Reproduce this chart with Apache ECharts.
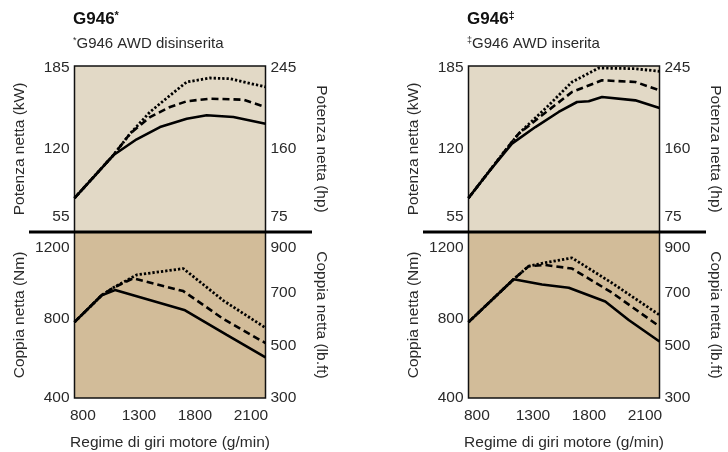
<!DOCTYPE html>
<html>
<head>
<meta charset="utf-8">
<script src="https://cdn.jsdelivr.net/npm/echarts@6/dist/echarts.min.js"></script>
<style>
html,body{margin:0;padding:0;background:#fff;}
#c{width:728px;height:452px;}
</style>
</head>
<body>
<div id="c"></div>
<script>
// ---- tick labels ----
const xTickPositions = [800, 1300, 1800, 2300];
const xTickLabels = ['800', '1300', '1800', '2100'];
const kwTicks = [55, 120, 185];
const hpTicks = [75, 160, 245];
const nmTicks = [400, 800, 1200];
const lbftTicks = [300, 500, 700, 900];

// ---- left panel (AWD disinserita): power kW ----
const lPowSolidRpm = [725, 1071, 1280, 1488, 1727, 1905, 2143, 2430];
const lPowSolidKw  = [81.6, 115.1, 127.6, 137.2, 143.7, 146.4, 145.1, 139.8];
const lPowDashRpm  = [725, 1071, 1221, 1399, 1578, 1727, 1935, 2232, 2430];
const lPowDashKw   = [81.6, 115.1, 132, 145, 152.9, 157.4, 159.4, 158.6, 152.9];
const lPowDotRpm   = [725, 1071, 1221, 1399, 1578, 1727, 1935, 2113, 2430];
const lPowDotKw    = [81.6, 115.1, 132, 149, 162, 172.5, 175.6, 175, 168.6];
// ---- left panel: torque Nm ----
const lTrqSolidRpm = [725, 968, 1087, 1712, 2084, 2430];
const lTrqSolidNm  = [784, 920, 946, 844, 720, 605];
const lTrqDashRpm  = [725, 968, 1071, 1250, 1696, 2054, 2430];
const lTrqDashNm   = [784, 920, 958, 1006, 941, 800, 678];
const lTrqDotRpm   = [725, 968, 1071, 1280, 1696, 2054, 2430];
const lTrqDotNm    = [784, 920, 958, 1023, 1055, 893, 755];

// ---- right panel (AWD inserita): power kW ----
const rPowSolidRpm = [725, 905, 1113, 1322, 1530, 1694, 1798, 1917, 2214, 2430];
const rPowSolidKw  = [81.6, 102, 124.2, 137.2, 149, 156.8, 157.4, 160.7, 158.1, 152.1];
const rPowDashRpm  = [725, 905, 1054, 1173, 1381, 1649, 1917, 2214, 2430];
const rPowDashKw   = [81.6, 102, 119, 132, 146.4, 164.6, 173.8, 172.5, 166];
const rPowDotRpm   = [725, 905, 1054, 1173, 1441, 1649, 1888, 2214, 2430];
const rPowDotKw    = [81.6, 102, 119, 132, 154.2, 172.5, 183.4, 182.9, 180.8];
// ---- right panel: torque Nm ----
const rTrqSolidRpm = [725, 1128, 1381, 1620, 1946, 2155, 2430];
const rTrqSolidNm  = [784, 1001, 974, 958, 888, 795, 686];
const rTrqDashRpm  = [725, 1128, 1262, 1411, 1649, 2006, 2430];
const rTrqDashNm   = [784, 1001, 1067, 1073, 1055, 933, 762];
const rTrqDotRpm   = [725, 1128, 1262, 1411, 1649, 2006, 2430];
const rTrqDotNm    = [784, 1001, 1067, 1085, 1109, 982, 820];

const FONT = '"Liberation Sans", Arial, Helvetica, sans-serif';
const TXT = '#2a2a2a';
const FS = 15.5;
const zip = (a, b) => a.map((v, i) => [v, b[i]]);

const topBg = '#e2d9c6';
const botBg = '#d2bc99';

function grid(left, top, height, bg) {
  return { left: left, top: top, width: 191, height: height, show: true,
           backgroundColor: bg, borderColor: '#111', borderWidth: 1.5 };
}
const grids = [
  grid(74.5, 66, 166, topBg),
  grid(74.5, 232, 172, botBg),
  grid(468.5, 66, 166, topBg),
  grid(468.5, 232, 172, botBg)
];

const richLbl = {
  n:  { fontFamily: FONT, fontSize: FS, color: TXT },
  lo: { fontFamily: FONT, fontSize: FS, color: TXT, padding: [0, 0, 30, 0] },
  hi: { fontFamily: FONT, fontSize: FS, color: TXT, padding: [16, 0, 0, 0] },
  tp: { fontFamily: FONT, fontSize: FS, color: TXT, padding: [4, 0, 0, 0] }
};

function yAxis(gi, pos, min, max, ticks, name, styleFor) {
  return {
    type: 'value', gridIndex: gi, position: pos, min: min, max: max,
    splitLine: { show: false }, axisTick: { show: false }, axisLine: { show: false },
    axisLabel: {
      customValues: ticks, margin: 5,
      formatter: v => '{' + styleFor(v) + '|' + v + '}',
      rich: richLbl
    },
    name: name, nameLocation: 'middle', nameGap: pos === 'left' ? 47 : 48,
    nameRotate: pos === 'left' ? 90 : -90,
    nameTextStyle: { fontFamily: FONT, fontSize: FS, color: TXT }
  };
}
const powStyleL = v => v === kwTicks[0] ? 'lo' : (v === kwTicks[kwTicks.length - 1] ? 'tp' : 'n');
const powStyleR = v => v === hpTicks[0] ? 'lo' : (v === hpTicks[hpTicks.length - 1] ? 'tp' : 'n');
const trqStyleL = v => v === nmTicks[nmTicks.length - 1] ? 'hi' : 'n';
const trqStyleR = v => v === lbftTicks[lbftTicks.length - 1] ? 'hi' : 'n';

const yAxes = [];
const xAxes = [];
[0, 2].forEach(g => {
  yAxes.push(yAxis(g, 'left', 55, 185, kwTicks, 'Potenza netta (kW)', powStyleL));
  yAxes.push(yAxis(g, 'right', 75, 245, hpTicks, 'Potenza netta (hp)', powStyleR));
  yAxes.push(yAxis(g + 1, 'left', 400, 1240, nmTicks, 'Coppia netta (Nm)', trqStyleL));
  yAxes.push(yAxis(g + 1, 'right', 300, 300 + (1240 - 400) * 600 / 800, lbftTicks, 'Coppia netta (lb.ft)', trqStyleR));
  xAxes.push({ type: 'value', gridIndex: g, min: 725, max: 2430, show: false });
  xAxes.push({
    type: 'value', gridIndex: g + 1, min: 725, max: 2430,
    splitLine: { show: false }, axisTick: { show: false }, axisLine: { show: false },
    axisLabel: {
      customValues: xTickPositions, margin: 10,
      fontFamily: FONT, fontSize: FS, color: TXT,
      formatter: v => xTickLabels[xTickPositions.indexOf(v)]
    },
    name: 'Regime di giri motore (g/min)', nameLocation: 'middle', nameGap: 37,
    nameTextStyle: { fontFamily: FONT, fontSize: FS, color: TXT }
  });
});

const styles = {
  solid: { color: '#000', width: 2.6, type: 'solid' },
  dash:  { color: '#000', width: 2.6, type: [7, 4] },
  dot:   { color: '#000', width: 2.8, type: [2.3, 2] }
};
function line(xi, yi, data, st) {
  return { type: 'line', xAxisIndex: xi, yAxisIndex: yi, data: data, showSymbol: false,
           symbol: 'none', silent: true, lineStyle: styles[st], z: st === 'solid' ? 5 : 4 };
}
const series = [
  line(0, 0, zip(lPowDotRpm, lPowDotKw), 'dot'),
  line(0, 0, zip(lPowDashRpm, lPowDashKw), 'dash'),
  line(0, 0, zip(lPowSolidRpm, lPowSolidKw), 'solid'),
  line(1, 2, zip(lTrqDotRpm, lTrqDotNm), 'dot'),
  line(1, 2, zip(lTrqDashRpm, lTrqDashNm), 'dash'),
  line(1, 2, zip(lTrqSolidRpm, lTrqSolidNm), 'solid'),
  line(2, 4, zip(rPowDotRpm, rPowDotKw), 'dot'),
  line(2, 4, zip(rPowDashRpm, rPowDashKw), 'dash'),
  line(2, 4, zip(rPowSolidRpm, rPowSolidKw), 'solid'),
  line(3, 6, zip(rTrqDotRpm, rTrqDotNm), 'dot'),
  line(3, 6, zip(rTrqDashRpm, rTrqDashNm), 'dash'),
  line(3, 6, zip(rTrqSolidRpm, rTrqSolidNm), 'solid')
];

const titleRich = {
  b: { fontFamily: FONT, fontSize: 17, fontWeight: 'bold', color: '#111' },
  bs: { fontFamily: FONT, fontSize: 11, fontWeight: 'bold', color: '#111', verticalAlign: 'top', padding: [0, 0, 7, 0] },
  s: { fontFamily: FONT, fontSize: 15, fontWeight: 'normal', color: TXT },
  ss: { fontFamily: FONT, fontSize: 9, fontWeight: 'normal', color: TXT, verticalAlign: 'top', padding: [0, 0, 6, 0] }
};
const titles = [
  { left: 73, top: 10, text: '{b|G946}{bs|*}' },
  { left: 73, top: 36, text: '{ss|*}{s|G946 AWD disinserita}' },
  { left: 467, top: 10, text: '{b|G946}{bs|‡}' },
  { left: 467, top: 36, text: '{ss|‡}{s|G946 AWD inserita}' }
];

const chart = echarts.init(document.getElementById('c'), null, { renderer: 'canvas' });
chart.setOption({
  animation: false,
  backgroundColor: '#fff',
  title: titles.map(t => Object.assign({ padding: 0, textStyle: { fontWeight: 'normal', rich: titleRich } }, t)),
  grid: grids,
  xAxis: xAxes,
  yAxis: yAxes,
  series: series,
  graphic: [
    { type: 'line', shape: { x1: 29, y1: 232, x2: 312, y2: 232 }, style: { stroke: '#000', lineWidth: 3 }, z: 100 },
    { type: 'line', shape: { x1: 423, y1: 232, x2: 706, y2: 232 }, style: { stroke: '#000', lineWidth: 3 }, z: 100 }
  ]
});
</script>
</body>
</html>
